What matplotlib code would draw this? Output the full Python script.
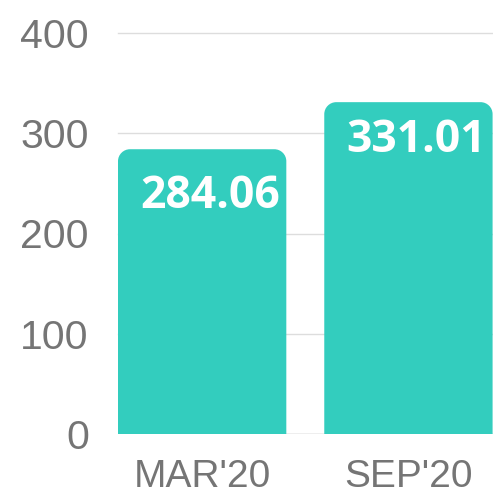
import matplotlib
matplotlib.use("Agg")
import matplotlib.pyplot as plt
from matplotlib.path import Path
from matplotlib.patches import PathPatch

categories = ["MAR'20", "SEP'20"]
values = [284.06, 331.01]
y_ticks = [0, 100, 200, 300, 400]

BAR_COLOR = "#33CDBE"
TICK_COLOR = "#757575"
GRID_COLOR = "#dddddd"

W, H, DPI = 493, 496, 100
fig = plt.figure(figsize=(W / DPI, H / DPI), dpi=DPI)
left, right, top, base = 118, 493, 33, 434
ax = fig.add_axes([left / W, (H - base) / H, (right - left) / W, (base - top) / H])

width = 0.816
xs = list(range(len(categories)))
ax.set_xlim(-width / 2, len(categories) - 1 + width / 2 + 0.002)
ax.set_ylim(0, 400)

for s in ax.spines.values():
    s.set_visible(False)
ax.set_yticks(y_ticks)
ax.set_yticklabels([str(t) for t in y_ticks], fontsize=29.5, color=TICK_COLOR,
                   family="Liberation Sans")
ax.set_xticks(xs)
ax.set_xticklabels(categories, fontsize=28, color=TICK_COLOR, family="Liberation Sans")
ax.tick_params(axis="both", length=0)
ax.tick_params(axis="y", pad=21)
ax.tick_params(axis="x", pad=18)
for t in y_ticks[1:]:
    ax.axhline(t, color=GRID_COLOR, lw=1, zorder=0, clip_on=False)
ax.axhline(0, color="#aaaaaa", lw=1, zorder=0.5)

# pixel-to-data scales for rounded corners
px_x = (ax.get_xlim()[1] - ax.get_xlim()[0]) / (right - left)
px_y = (ax.get_ylim()[1] - ax.get_ylim()[0]) / (base - top)
r = 12
rx, ry = r * px_x, r * px_y
k = 0.5523

bars = ax.bar(xs, values, width=width, color="none")
for bar in bars:
    x0, y0 = bar.get_x(), bar.get_y()
    x1, y1 = x0 + bar.get_width(), y0 + bar.get_height()
    verts = [
        (x0, y0), (x0, y1 - ry),
        (x0, y1 - ry + k * ry), (x0 + rx - k * rx, y1), (x0 + rx, y1),
        (x1 - rx, y1),
        (x1 - rx + k * rx, y1), (x1, y1 - ry + k * ry), (x1, y1 - ry),
        (x1, y0), (x0, y0),
    ]
    codes = [Path.MOVETO, Path.LINETO,
             Path.CURVE4, Path.CURVE4, Path.CURVE4,
             Path.LINETO,
             Path.CURVE4, Path.CURVE4, Path.CURVE4,
             Path.LINETO, Path.CLOSEPOLY]
    ax.add_patch(PathPatch(Path(verts, codes), facecolor=BAR_COLOR,
                           edgecolor="none", zorder=1, clip_on=False))

# value labels inside the bars
offsets = [47, 38]
for x, v, off in zip(xs, values, offsets):
    ax.annotate(f"{v:.2f}", xy=(x, v), xytext=(8, -off), textcoords="offset pixels",
                ha="center", va="center", fontsize=32, fontweight="bold",
                color="white", family="Open Sans", zorder=3)

fig.savefig("out.png", dpi=DPI)
